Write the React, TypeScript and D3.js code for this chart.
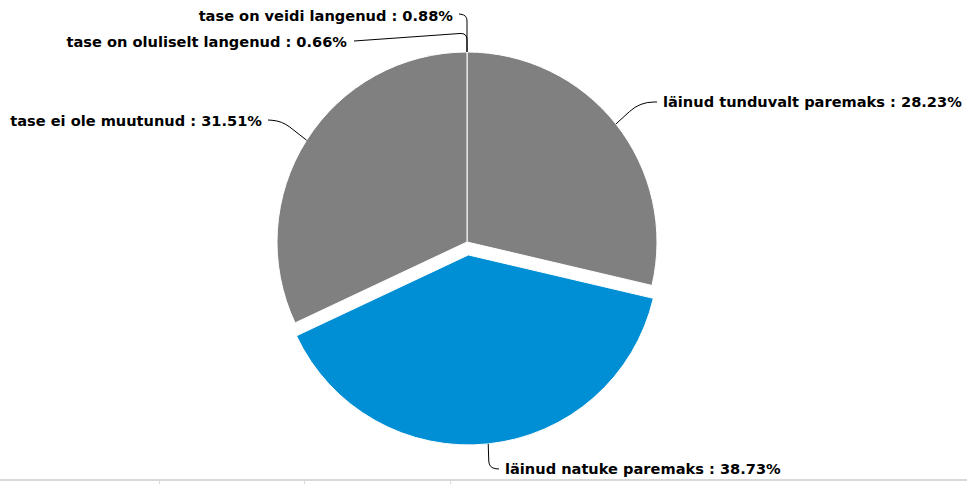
import React from "react";
import * as d3 from "d3";

const categories = [
  "läinud tunduvalt paremaks",
  "läinud natuke paremaks",
  "tase ei ole muutunud",
  "tase on oluliselt langenud",
  "tase on veidi langenud",
];
const values = [28.23, 38.73, 31.51, 0.66, 0.88];
const labelTexts = ["28.23%", "38.73%", "31.51%", "0.66%", "0.88%"];
const sliceColors = ["#808080", "#008fd5", "#808080", "#808080", "#808080"];
const explodedIndex = 1;

// label layout: text anchor point, text-anchor, knee of connector
const labelLayout = [
  { x: 663, y: 103, anchor: "start", ax: 657, ay: 102, kx: 640, ky: 102, kr: 14 },
  { x: 505, y: 470, anchor: "start", ax: 499, ay: 469, kx: 489, ky: 468, kr: 7 },
  { x: 262, y: 122, anchor: "end", ax: 268, ay: 120, kx: 282, ky: 121, kr: 10 },
  { x: 347, y: 43, anchor: "end", ax: 354, ay: 41, kx: 467, ky: 33, kr: 7 },
  { x: 453, y: 17, anchor: "end", ax: 459, ay: 14, kx: 467, ky: 15, kr: 6 },
];

const W = 967;
const H = 484;
const cx = 467;
const cy = 242;
const R = 190;
const explode = 13;
const minVisible = 1;

function connector(ax: number, ay: number, kx: number, ky: number, kr: number, ex: number, ey: number) {
  const d1 = Math.hypot(ax - kx, ay - ky) || 1;
  const d2 = Math.hypot(ex - kx, ey - ky) || 1;
  const r1 = Math.min(kr, d1);
  const r2 = Math.min(kr, d2);
  const p1x = kx + ((ax - kx) / d1) * r1;
  const p1y = ky + ((ay - ky) / d1) * r1;
  const p2x = kx + ((ex - kx) / d2) * r2;
  const p2y = ky + ((ey - ky) / d2) * r2;
  return `M${ax},${ay}L${p1x},${p1y}Q${kx},${ky} ${p2x},${p2y}L${ex},${ey}`;
}

export default function App() {
  const pie = d3
    .pie<number>()
    .sort(null)
    .value((v) => (v >= minVisible ? v : 0));
  const arcs = pie(values);
  const arc = d3.arc<d3.PieArcDatum<number>>().innerRadius(0).outerRadius(R);

  return (
    <svg
      width={W}
      height={H}
      style={{ position: "absolute", left: 0, top: 0 }}
      fontFamily="'DejaVu Sans', Verdana, sans-serif"
    >
      <rect x={0} y={0} width={W} height={H} fill="#ffffff" />
      <g transform={`translate(${cx},${cy})`}>
        {arcs.map((a, i) => {
          const mid = (a.startAngle + a.endAngle) / 2;
          const off = i === explodedIndex ? explode : 0;
          const tx = Math.sin(mid) * off;
          const ty = -Math.cos(mid) * off;
          if (a.endAngle - a.startAngle <= 0) return null;
          return (
            <path
              key={i}
              d={arc(a) || ""}
              transform={`translate(${tx},${ty})`}
              fill={sliceColors[i]}
              stroke="#ffffff"
              strokeWidth={1}
              strokeLinejoin="round"
            />
          );
        })}
      </g>
      {arcs.map((a, i) => {
        const mid = (a.startAngle + a.endAngle) / 2;
        const off = i === explodedIndex ? explode : 0;
        const ex = cx + Math.sin(mid) * (R + off);
        const ey = cy - Math.cos(mid) * (R + off);
        const L = labelLayout[i];
        return (
          <g key={"l" + i}>
            <path
              d={connector(L.ax, L.ay, L.kx, L.ky, L.kr, ex, ey)}
              fill="none"
              stroke="#000000"
              strokeWidth={1}
            />
            <text
              x={L.x}
              y={L.y}
              textAnchor={L.anchor as any}
              dominantBaseline="middle"
              fontSize={14.6}
              fontWeight="bold"
              fill="#000000"
            >
              {`${categories[i]} : ${labelTexts[i]}`}
            </text>
          </g>
        );
      })}
      <rect x={0} y={479} width={W} height={2} fill="#d9d9d9" />
      {[159, 304, 450].map((x) => (
        <rect key={x} x={x} y={481} width={1} height={3} fill="#d9d9d9" />
      ))}
    </svg>
  );
}
